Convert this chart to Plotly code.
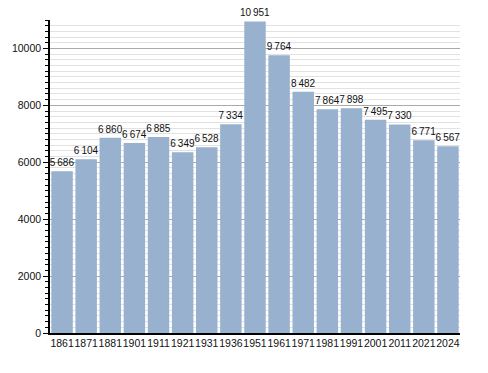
import plotly.graph_objects as go

years = ["1861", "1871", "1881", "1901", "1911", "1921", "1931", "1936", "1951",
         "1961", "1971", "1981", "1991", "2001", "2011", "2021", "2024"]
population = [5686, 6104, 6860, 6674, 6885, 6349, 6528, 7334, 10951,
              9764, 8482, 7864, 7898, 7495, 7330, 6771, 6567]
labels = [f"{v:,}".replace(",", "\u202f") for v in population]

fig = go.Figure(go.Bar(
    x=years, y=population,
    text=labels, textposition="outside", constraintext="none",
    textfont=dict(size=10, color="#111"),
    cliponaxis=False,
    marker=dict(color="rgb(151,177,206)", line=dict(width=0)),
    hoverinfo="skip",
))

fig.update_layout(
    width=480, height=365,
    margin=dict(l=42, r=28, t=12, b=40, autoexpand=False),
    paper_bgcolor="white", plot_bgcolor="white",
    font=dict(family="Liberation Sans, Arial, sans-serif", size=10.5, color="#111"),
    bargap=0.11,
    showlegend=False,
    xaxis=dict(
        type="category", showline=True, linecolor="black", linewidth=1.5,
        ticks="", showgrid=False, tickfont=dict(size=10.5), tickangle=0,
        automargin=False,
    ),
    yaxis=dict(
        range=[0, 11000], dtick=2000, tick0=0, tickformat="d",
        showline=True, linecolor="black", linewidth=1.5,
        ticks="outside", ticklen=5, tickcolor="black",
        showgrid=True, gridcolor="#aaaaaa", gridwidth=1,
        zeroline=False, tickfont=dict(size=10.5), automargin=False,
        minor=dict(dtick=200, showgrid=True, gridcolor="#e2e2e2",
                   ticks="outside", ticklen=3, tickcolor="black"),
    ),
)

fig.write_html("out.html")
